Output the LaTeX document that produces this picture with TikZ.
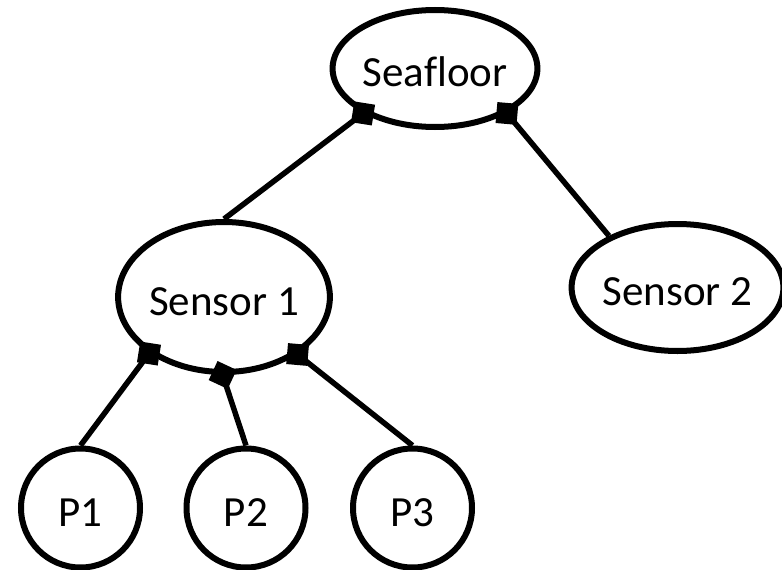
\documentclass[tikz,border=0pt]{standalone}
\usepackage{fontspec}
\setmainfont{Carlito}[Ligatures=NoCommon]
\usetikzlibrary{shapes.geometric}
\begin{document}
\begin{tikzpicture}[x=1pt,y=-1pt,
  every node/.style={font=\fontsize{43}{50}\selectfont,text height=36pt,text depth=0pt},
  bubble/.style={ellipse,draw,line width=6pt,inner sep=0pt},
  leaf/.style={circle,draw,line width=6pt,inner sep=0pt,minimum size=119pt},
  link/.style={line width=5.5pt},
  dock/.style={rectangle,fill=black,inner sep=0pt,minimum size=21pt,text height=0pt,text depth=0pt}
]
\useasboundingbox (0,0) rectangle (782,570);

% tree nodes
\node[bubble,minimum width=190pt,minimum height=117pt] (sea) at (435,68.5) {Seafloor};
\node[bubble,minimum width=193pt,minimum height=150pt] (s1) at (224,297) {Sensor 1};
\node[bubble,minimum width=185pt,minimum height=127pt] (s2) at (677.5,287.5) {Sensor 2};
\node[leaf] (p1) at (80.5,508) {P1};
\node[leaf] (p2) at (246,508) {P2};
\node[leaf] (p3) at (412.5,508) {P3};

% parent-child links
\draw[link] (sea.212.6) -- (s1.90);
\draw[link] (sea.328) -- (s2.143.7);
\draw[link] (s1.217.5) -- (p1.90);
\draw[link] (s1.269) -- (p2.90);
\draw[link] (s1.322.5) -- (p3.90);

% square docks where the links leave the parent
\node[dock,rotate=-9] (dA) at (sea.212.6) {};
\node[dock,rotate=-5] (dB) at (sea.328) {};
\node[dock,rotate=-9] (dC) at (s1.217.5) {};
\node[dock,rotate=-25] (dD) at (s1.269) {};
\node[dock,rotate=-5] (dE) at (s1.322.5) {};
\end{tikzpicture}
\end{document}
